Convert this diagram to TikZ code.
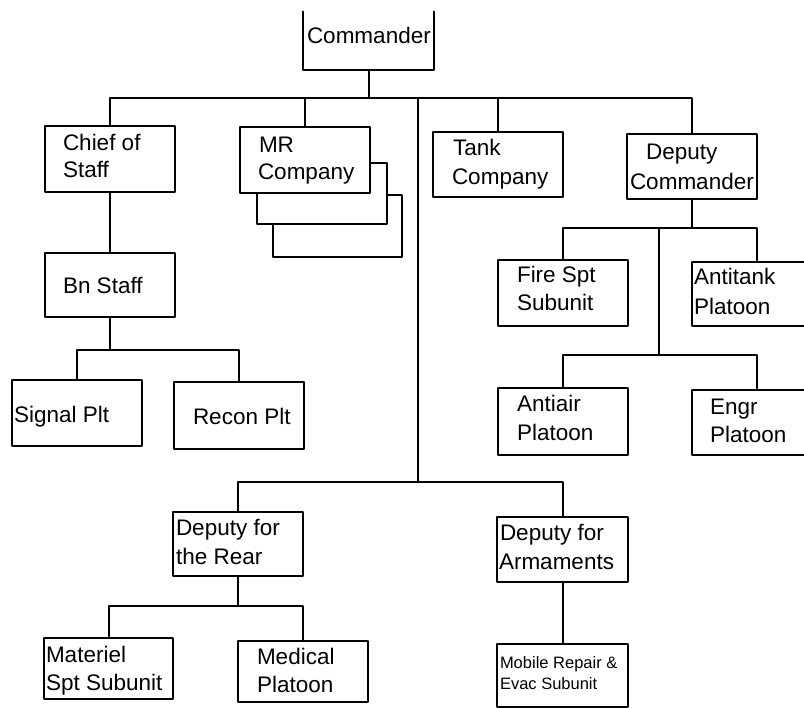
\documentclass[tikz,border=0pt]{standalone}
\usepackage{fontspec}
\setmainfont{Liberation Sans}
\begin{document}
\begin{tikzpicture}[x=1pt,y=-1pt,
  line width=2pt, line cap=round, line join=round,
  box/.style={draw, fill=white, minimum width=130, inner sep=0pt},
  lbl/.style={inner sep=0pt, anchor=west, font=\fontsize{22.5}{27}\selectfont, text height=16pt, text depth=0pt},
  small/.style={inner sep=0pt, anchor=west, font=\fontsize{16.5}{20}\selectfont, text height=12pt, text depth=0pt}]
\useasboundingbox (0,0) rectangle (804,708);
\clip (0,0) rectangle (804,708);
\newcommand\boxtext[5][lbl]{\node[#1] (#2) at (#3,#4) {#5};}
% Commander (top edge not shown)
\node[minimum width=129, minimum height=57, inner sep=0pt] (cmd) at (368.5,41) {};
\draw (cmd.north west) -- (cmd.south west) -- (cmd.south east) -- (cmd.north east);
\boxtext{tcmd}{306}{36}{Commander}
% level 1
\node[box, minimum height=66] (cos) at (110,159) {};
\node[box, minimum width=129, minimum height=62] (mr3) at (337.5,226) {};
\node[box, minimum height=61] (mr2) at (322,193.5) {};
\node[box, minimum height=66] (mr) at (305,160) {};
\node[box, minimum height=65] (tc) at (498,164.5) {};
\node[box, minimum height=65] (dc) at (692,166.5) {};
% left branch
\node[box, minimum height=64] (bn) at (110,285) {};
\node[box, minimum height=66] (sig) at (77,413) {};
\node[box, minimum height=67] (rec) at (239,415.5) {};
% deputy commander branch
\node[box, minimum height=66] (fs) at (563,293) {};
\node[box, minimum height=64] (at) at (757,294) {};
\node[box, minimum height=67] (aa) at (563,421.5) {};
\node[box, minimum height=65] (en) at (757,422.5) {};
% bottom branch
\node[box, minimum height=64] (dr) at (238,544) {};
\node[box, minimum width=129, minimum height=61] (mat) at (108.5,668.5) {};
\node[box, minimum height=61] (med) at (303,671.5) {};
\node[box, minimum width=131, minimum height=65] (da) at (562.5,549.5) {};
\node[box, minimum width=131, minimum height=63] (mob) at (562.5,675.5) {};
% bus coordinates
\coordinate (bus1) at (368.5,98);
\coordinate (trunk) at (418,482);
\coordinate (bnbus) at (110,350);
\coordinate (dcbus) at (659,228);
\coordinate (dcbus2) at (659,355);
\coordinate (drbus) at (238,606);
% connectors
\draw (cmd.south) -- (bus1);
\draw (cos.north) |- (bus1) -| (dc.north);
\draw (mr.north) -- (mr.north |- bus1);
\draw (tc.north) -- (tc.north |- bus1);
\draw (trunk |- bus1) -- (trunk);
\draw (dr.north) |- (trunk) -| (da.north);
\draw (cos.south) -- (bn.north);
\draw (bn.south) -- (bnbus);
\draw (sig.north) |- (bnbus) -| (rec.north);
\draw (dc.south) -- (dc.south |- dcbus);
\draw (fs.north) |- (dcbus) -| (at.north);
\draw (dcbus) -- (dcbus2);
\draw (aa.north) |- (dcbus2) -| (en.north);
\draw (dr.south) -- (drbus);
\draw (mat.north) |- (drbus) -| (med.north);
\draw (da.south) -- (mob.north);
% texts
\boxtext{tcos1}{62}{143}{Chief of}
\boxtext{tcos2}{62}{170}{Staff}
\boxtext{tmr1}{258}{145}{MR}
\boxtext{tmr2}{257}{172}{Company}
\boxtext{ttc1}{452}{148}{Tank}
\boxtext{ttc2}{451}{177}{Company}
\boxtext{tdc1}{645}{152}{Deputy}
\boxtext{tdc2}{629}{182}{Commander}
\boxtext{tbn}{62}{286}{Bn Staff}
\boxtext{tsig}{13}{415}{Signal Plt}
\boxtext{trec}{192}{417}{Recon Plt}
\boxtext{tfs1}{516}{275}{Fire Spt}
\boxtext{tfs2}{516}{303}{Subunit}
\boxtext{tat1}{693}{277}{Antitank}
\boxtext{tat2}{693}{307}{Platoon}
\boxtext{taa1}{516}{404}{Antiair}
\boxtext{taa2}{516}{433}{Platoon}
\boxtext{ten1}{709}{407}{Engr}
\boxtext{ten2}{709}{435}{Platoon}
\boxtext{tdr1}{175}{528}{Deputy for}
\boxtext{tdr2}{175}{557}{the Rear}
\boxtext{tmat1}{45}{654}{Materiel}
\boxtext{tmat2}{45}{682}{Spt Subunit}
\boxtext{tmed1}{256}{656}{Medical}
\boxtext{tmed2}{256}{684}{Platoon}
\boxtext{tda1}{499}{533}{Deputy for}
\boxtext{tda2}{498}{561}{Armaments}
\boxtext[small]{tmob1}{499}{662}{Mobile Repair \&}
\boxtext[small]{tmob2}{499}{683}{Evac Subunit}
\end{tikzpicture}
\end{document}
